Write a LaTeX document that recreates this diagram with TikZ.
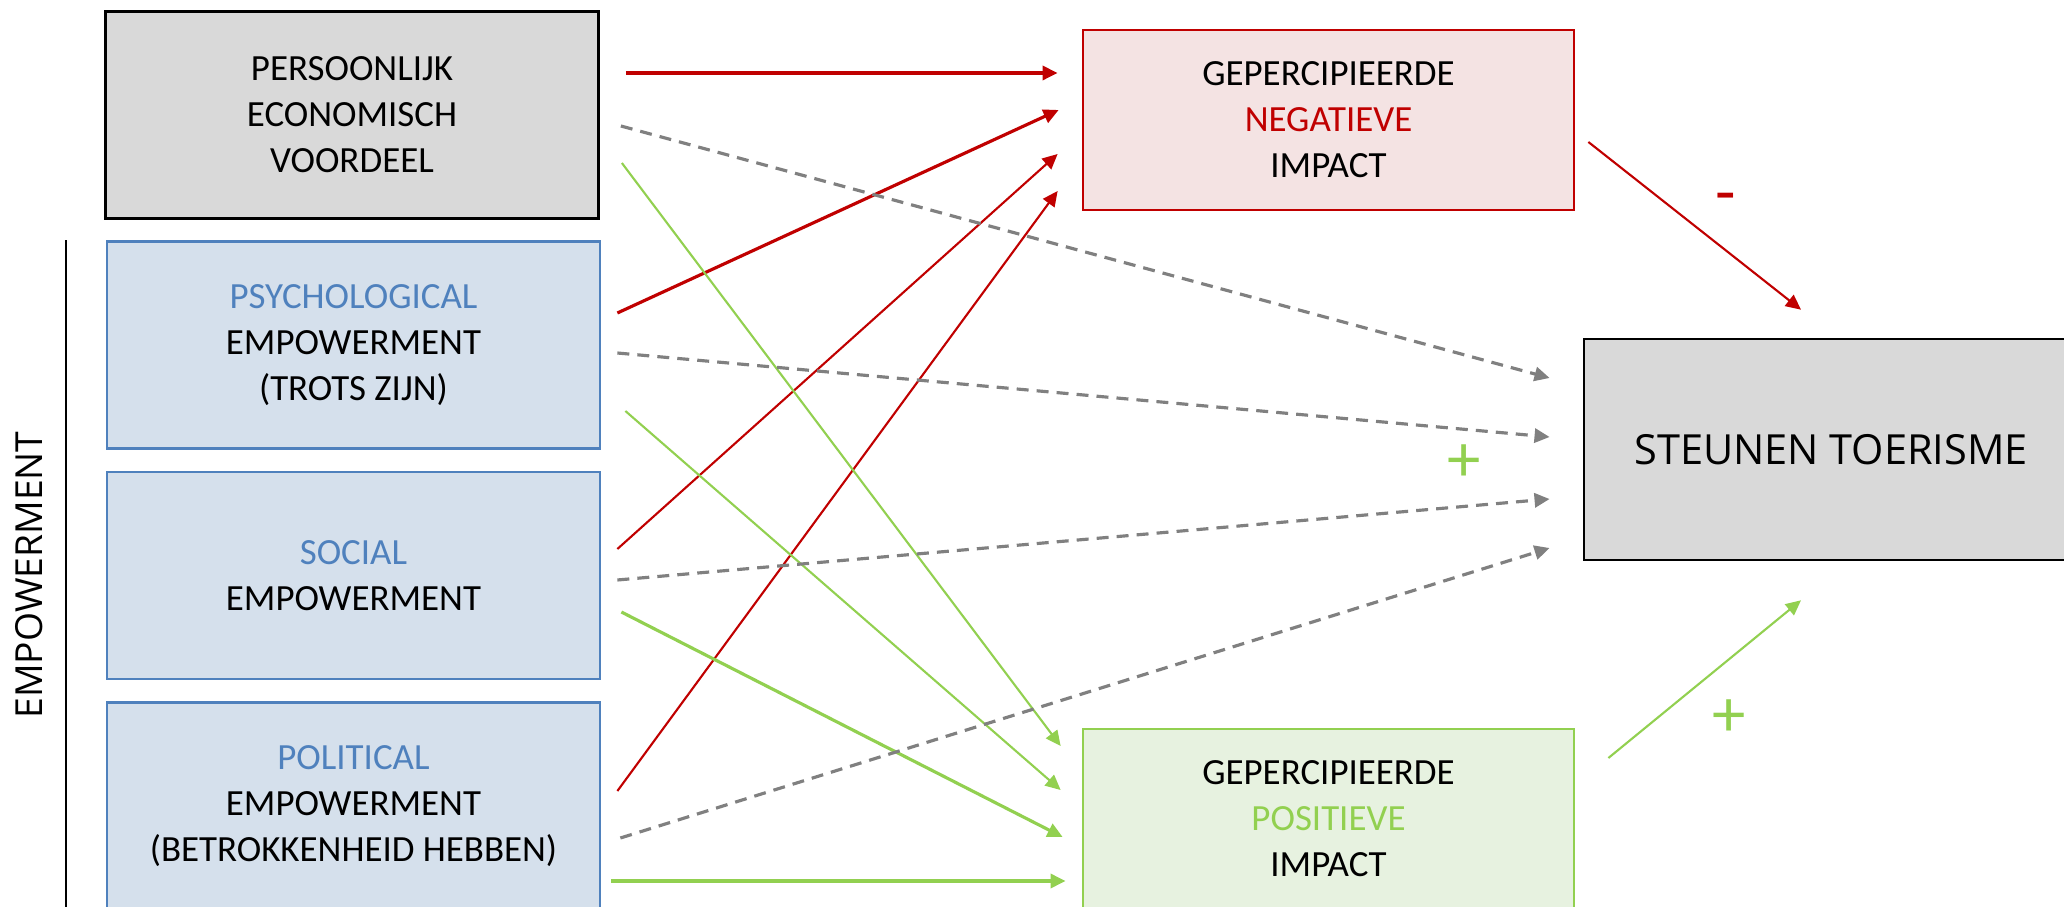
\documentclass[tikz,border=0pt]{standalone}
\usepackage{fontspec}
\setmainfont{Carlito}
\newfontfamily\opensans{Open Sans}
\usetikzlibrary{arrows.meta}
\definecolor{boxgray}{HTML}{D9D9D9}
\definecolor{empblue}{HTML}{4F81BD}
\definecolor{empfill}{HTML}{D5E0EC}
\definecolor{negred}{HTML}{C00000}
\definecolor{negfill}{HTML}{F4E3E3}
\definecolor{posgreen}{HTML}{92D050}
\definecolor{posfill}{HTML}{E7F2E0}
\definecolor{linkgray}{HTML}{808080}
\begin{document}
\begin{tikzpicture}[x=0.01cm,y=-0.01cm,
    box/.style={draw,line width=0.7pt,inner sep=0pt,align=center,
      font=\fontsize{10.5}{13.1}\selectfont},
    leftbox/.style={box,minimum width=4.93cm,minimum height=2.07cm},
    empbox/.style={leftbox,draw=empblue,fill=empfill},
    impactbox/.style={box,minimum width=4.91cm,minimum height=1.8cm},
    link/.style={-{Triangle[length=4.3pt,width=4pt]}},
    neglink/.style={link,negred,line width=0.6pt},
    poslink/.style={link,posgreen,line width=0.6pt},
    dashlink/.style={link,linkgray,line width=0.9pt,dash pattern=on 3.4pt off 2.3pt},
    sign/.style={font=\fontsize{19}{22}\selectfont,inner sep=0pt}]
    \useasboundingbox (0,0) rectangle (2064,907);
    % boxes
    \node[leftbox,fill=boxgray] (econ) at (352,115) {PERSOONLIJK\\ECONOMISCH\\VOORDEEL};
    \node[empbox] (psych) at (353.5,345) {\textcolor{empblue}{PSYCHOLOGICAL}\\EMPOWERMENT\\(TROTS ZIJN)};
    \node[empbox] (social) at (353.5,575.5) {\textcolor{empblue}{SOCIAL}\\EMPOWERMENT};
    \node[empbox] (political) at (353.5,806) {\textcolor{empblue}{POLITICAL}\\EMPOWERMENT\\(BETROKKENHEID HEBBEN)};
    \node[impactbox,draw=negred,fill=negfill] (neg) at (1328.5,120) {GEPERCIPIEERDE\\\textcolor{negred}{NEGATIEVE}\\IMPACT};
    \node[impactbox,draw=posgreen,fill=posfill] (pos) at (1328.5,819) {GEPERCIPIEERDE\\\textcolor{posgreen}{POSITIEVE}\\IMPACT};
    \node[box,fill=boxgray,minimum width=4.94cm,minimum height=2.21cm,
      font=\opensans\fontsize{11.8}{14}\selectfont] (steun) at (1831,449.5) {STEUNEN TOERISME};
    % empowerment bracket
    \node[rotate=90,inner sep=0pt,font=\opensans\fontsize{10.6}{12}\selectfont] (emp) at (29,575) {EMPOWERMENT};
    \draw[line width=0.6pt] ([shift={(-40,0)}]psych.north west) -- ([shift={(-40,0)}]political.south west);
    % to negative impact
    \draw[neglink,line width=0.9pt] ([shift={(26,-42)}]econ.east) -- ([shift={(-24,-47)}]neg.west);
    \draw[neglink,line width=0.9pt] ([shift={(16,-32)}]psych.east) -- ([shift={(-23,-10)}]neg.west);
    \draw[neglink] ([shift={(16,-26.5)}]social.east) -- ([shift={(-24,34)}]neg.west);
    \draw[neglink] ([shift={(16,-15)}]political.east) -- ([shift={(-24,71)}]neg.west);
    % to positive impact
    \draw[poslink] ([shift={(22,48)}]econ.east) -- ([shift={(-21,-73)}]pos.west);
    \draw[poslink] ([shift={(24,66)}]psych.east) -- ([shift={(-21,-29)}]pos.west);
    \draw[poslink,line width=0.9pt] ([shift={(20,36.5)}]social.east) -- ([shift={(-19,18)}]pos.west);
    \draw[poslink,line width=0.9pt] ([shift={(10,75)}]political.east) -- ([shift={(-16,62)}]pos.west);
    % direct effects
    \draw[dashlink] ([shift={(21,11)}]econ.east) -- ([shift={(-33,-71.5)}]steun.west);
    \draw[dashlink] ([shift={(16,8)}]psych.east) -- ([shift={(-33,-12.5)}]steun.west);
    \draw[dashlink] ([shift={(16,4.5)}]social.east) -- ([shift={(-33,49.5)}]steun.west);
    \draw[dashlink] ([shift={(19,32)}]political.east) -- ([shift={(-33,98.5)}]steun.west);
    % impacts to support
    \draw[neglink] ([shift={(13,22)}]neg.east) -- ([shift={(-30,-28)}]steun.north);
    \draw[poslink] ([shift={(33,-61)}]pos.east) -- ([shift={(-30,39)}]steun.south);
    \node[sign,text=negred] (minus) at (1725.5,204) {-};
    \node[sign,text=posgreen] (plusneg) at (1729.5,718) {+};
    \node[sign,text=posgreen] (plusdirect) at (1464,463) {+};
\end{tikzpicture}
\end{document}
